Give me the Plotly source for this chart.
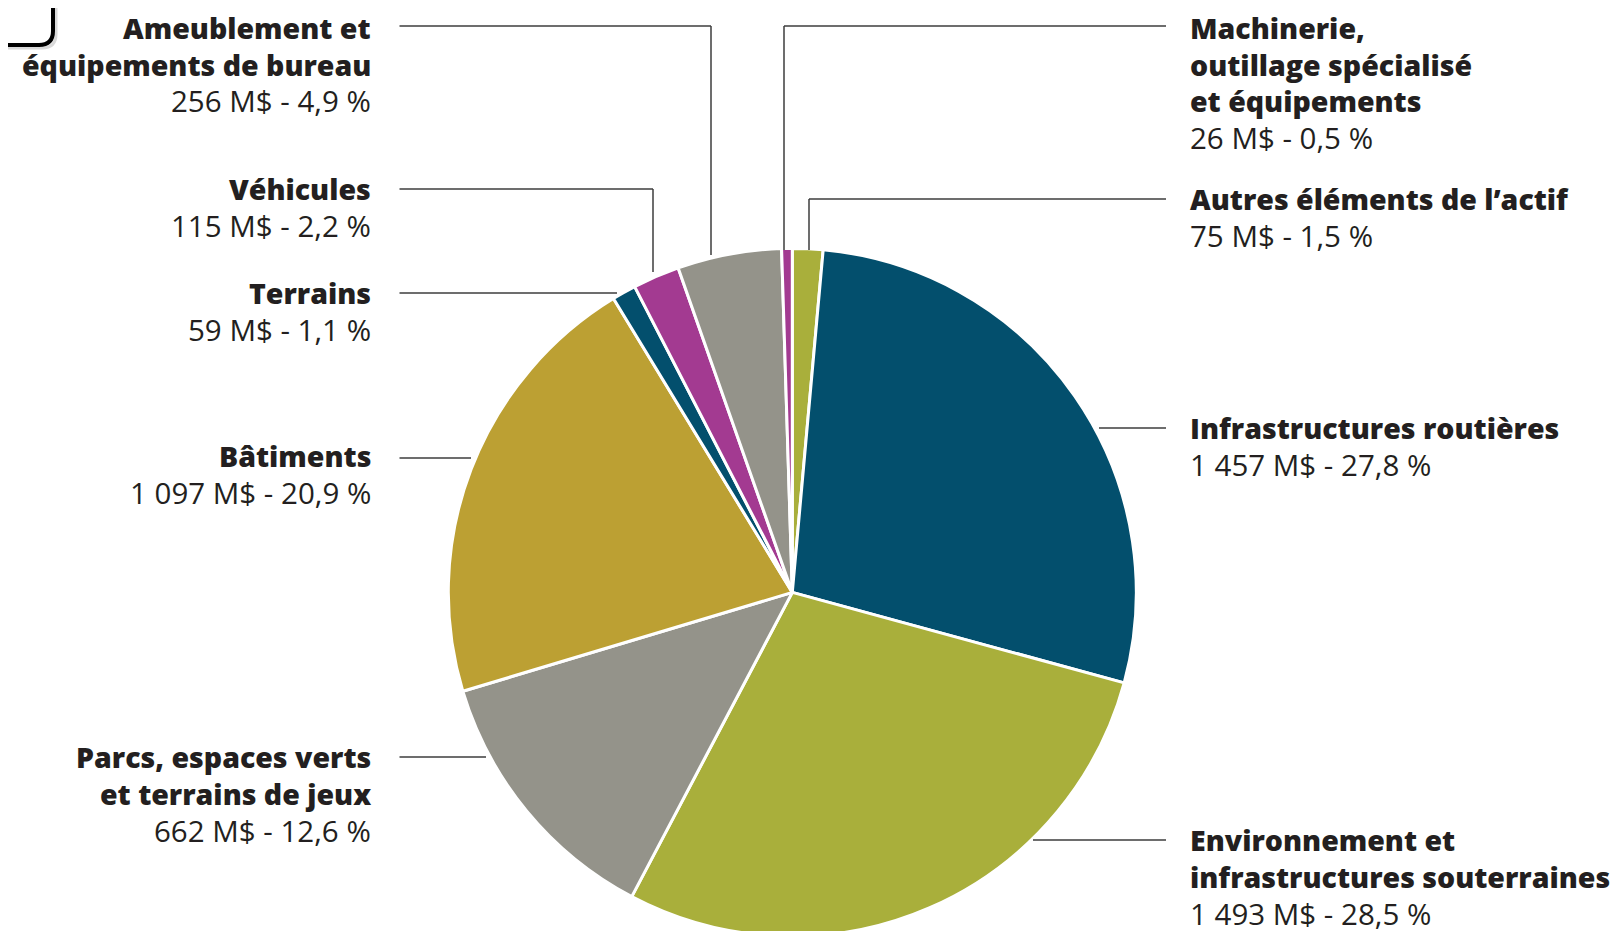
import plotly.graph_objects as go

W, H = 1623, 931

# ---- data ----
categories = [
    "Autres éléments de l’actif",
    "Infrastructures routières",
    "Environnement et infrastructures souterraines",
    "Parcs, espaces verts et terrains de jeux",
    "Bâtiments",
    "Terrains",
    "Véhicules",
    "Ameublement et équipements de bureau",
    "Machinerie, outillage spécialisé et équipements",
]
values_mds = [75, 1457, 1493, 662, 1097, 59, 115, 256, 26]
shares_pct = ["1,5", "27,8", "28,5", "12,6", "20,9", "1,1", "2,2", "4,9", "0,5"]
label_lines = [
    ["Autres éléments de l’actif"],
    ["Infrastructures routières"],
    ["Environnement et", "infrastructures souterraines"],
    ["Parcs, espaces verts", "et terrains de jeux"],
    ["Bâtiments"],
    ["Terrains"],
    ["Véhicules"],
    ["Ameublement et", "équipements de bureau"],
    ["Machinerie,", "outillage spécialisé", "et équipements"],
]
colors = ["#a9af3b", "#034f6d", "#a9af3b", "#94938a", "#bca033",
          "#034f6d", "#a33a91", "#94938a", "#a33a91"]

# ---- layout constants (screen pixels) ----
side = ["R", "R", "R", "L", "L", "L", "L", "L", "R"]
leader_y = [199, 428, 840, 757, 458, 293, 189, 26, 26]
text_y = [199, 428, 840, 757, 456, 293, 189, 28, 28]
leader_x = [809, 1099, 1033, 486, 471, 617, 653, 711, 784]
leader_vy = [250, None, None, None, None, None, 272, 255, 250]
LEFT_TEXT_X, LEFT_LINE_X = 372, 399.5
RIGHT_TEXT_X, RIGHT_LINE_X = 1189, 1166
LINE_STEP = 36.5
FS_BOLD, FS_REG = 28.5, 29.5
CX, CY, R = 792.3, 592.4, 344.0
OFF = 8  # page body margin offset


def px(x):
    return (x - OFF) / W


def py(y):
    return 1 - (y - OFF) / H


def fmt(v):
    return f"{v:,}".replace(",", "\u00a0")


fig = go.Figure(
    go.Pie(
        labels=categories,
        values=values_mds,
        sort=False,
        direction="clockwise",
        rotation=0,
        marker=dict(colors=colors, line=dict(color="white", width=3)),
        textinfo="none",
        hoverinfo="label+value+percent",
        showlegend=False,
        domain=dict(x=[px(CX - R), px(CX + R)], y=[py(CY + R), py(CY - R)]),
    )
)

annotations = []
shapes = []
font_family = "Open Sans, Noto Sans, sans-serif"
for i, name in enumerate(categories):
    lines = label_lines[i] + [f"{fmt(values_mds[i])}\u00a0M$ - {shares_pct[i]}\u00a0%"]
    for j, t in enumerate(lines):
        is_val = j == len(lines) - 1
        annotations.append(dict(
            xref="paper", yref="paper",
            x=px(LEFT_TEXT_X if side[i] == "L" else RIGHT_TEXT_X),
            y=py(text_y[i] + j * LINE_STEP),
            xanchor="right" if side[i] == "L" else "left",
            yanchor="middle",
            borderpad=0,
            text=t,
            showarrow=False,
            font=dict(family=font_family, size=FS_REG if is_val else FS_BOLD, color="#231f20",
                      weight=400 if is_val else 800),
        ))
    x0 = LEFT_LINE_X if side[i] == "L" else RIGHT_LINE_X
    shapes.append(dict(type="line", xref="paper", yref="paper",
                       x0=px(x0), y0=py(leader_y[i]), x1=px(leader_x[i]), y1=py(leader_y[i]),
                       line=dict(color="#3c3c3c", width=1.5)))
    if leader_vy[i] is not None:
        shapes.append(dict(type="line", xref="paper", yref="paper",
                           x0=px(leader_x[i]), y0=py(leader_y[i]), x1=px(leader_x[i]), y1=py(leader_vy[i]),
                           line=dict(color="#3c3c3c", width=1.5)))


# cropped rounded box in the top-left corner
def corner_path(ox, oy):
    return (f"M {px(-20 + ox)},{py(45 + oy)} L {px(39 + ox)},{py(45 + oy)} "
            f"Q {px(53 + ox)},{py(45 + oy)} {px(53 + ox)},{py(31 + oy)} L {px(53 + ox)},{py(-20 + oy)}")


shapes.insert(0, dict(type="path", xref="paper", yref="paper", path=corner_path(3, 3),
                      line=dict(color="#d9d9d9", width=3)))
shapes.append(dict(type="path", xref="paper", yref="paper", path=corner_path(0, 0),
                   line=dict(color="#000000", width=4)))

fig.update_layout(
    width=W, height=H,
    margin=dict(l=0, r=0, t=0, b=0),
    paper_bgcolor="white", plot_bgcolor="white",
    annotations=annotations,
    shapes=shapes,
)

fig.write_html("out.html")
